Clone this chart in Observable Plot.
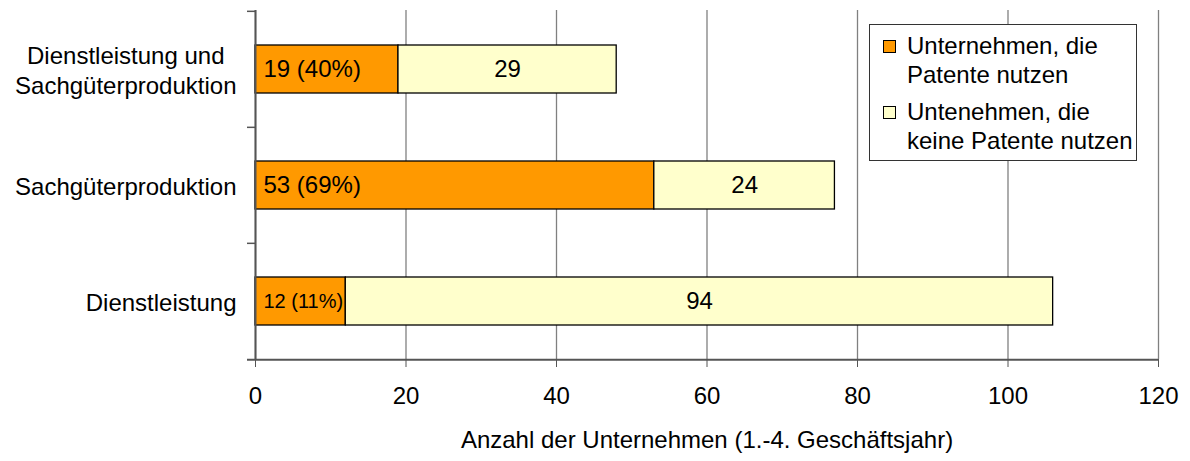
<!DOCTYPE html>
<html>
<head>
<meta charset="utf-8">
<script src="https://cdn.jsdelivr.net/npm/d3@7"></script>
<script src="https://cdn.jsdelivr.net/npm/@observablehq/plot@0.6"></script>
<style>
  html, body { margin: 0; padding: 0; background: #fff; }
  body { font-family: "Liberation Sans", Arial, sans-serif; }
  #wrap { position: relative; width: 1190px; height: 461px; }
  #legend { position: absolute; left: 869px; top: 24px; width: 266px; height: 135px;
    border: 1px solid #333; background: #fff; font-size: 24px; color: #000; }
  .item { position: absolute; left: 37px; line-height: 29px; white-space: nowrap; }
  .sw { position: absolute; left: -24px; top: 9px; width: 11px; height: 11px; border: 1px solid #000; }
</style>
</head>
<body>
<div id="wrap"><div id="chart"></div><div id="legend"></div></div>
<script>
const categories = ["Dienstleistung und\nSachgüterproduktion", "Sachgüterproduktion", "Dienstleistung"];
const withPatents = [19, 53, 12];
const withoutPatents = [29, 24, 94];
const percentWith = [40, 69, 11];
const series = ["Unternehmen, die\nPatente nutzen", "Untenehmen, die\nkeine Patente nutzen"];
const colors = ["#FF9900", "#FFFFCC"];
const xTicks = [0, 20, 40, 60, 80, 100, 120];
const xLabel = "Anzahl der Unternehmen (1.-4. Geschäftsjahr)";

const W = 1190, H = 461, mL = 255, mR = 32, mT = 10, mB = 102;
const FONT = "Liberation Sans, Arial, sans-serif";
const FS = 24;
const step = (H - mT - mB) / categories.length;

const rows = [];
categories.forEach((c, i) => {
  rows.push({cat: c, series: series[0], value: withPatents[i]});
  rows.push({cat: c, series: series[1], value: withoutPatents[i]});
});
const orangeLabels = categories.map((c, i) => ({cat: c, v: withPatents[i], t: `${withPatents[i]} (${percentWith[i]}%)`}));
const yellowLabels = categories.map((c, i) => ({cat: c, x: withPatents[i] + withoutPatents[i] / 2, t: String(withoutPatents[i])}));
const xMax = xTicks[xTicks.length - 1];

// measure widest line of each category label (lines are centred within a right-aligned block)
const ctx = document.createElement("canvas").getContext("2d");
ctx.font = `${FS}px "Liberation Sans"`;
const blockWidth = s => Math.max(...s.split("\n").map(l => ctx.measureText(l).width));

const chart = Plot.plot({
  width: W, height: H,
  marginLeft: mL, marginRight: mR, marginTop: mT, marginBottom: mB,
  style: {fontFamily: FONT, fontSize: FS + "px", color: "#000", background: "#fff"},
  x: {domain: [0, xMax], axis: null},
  y: {domain: categories, paddingInner: 0.59, paddingOuter: 0.295, axis: null},
  color: {domain: series, range: colors},
  marks: [
    Plot.gridX(xTicks, {stroke: "#808080", strokeOpacity: 1, strokeWidth: 1.3}),
    Plot.barX(rows, {x: "value", y: "cat", fill: "series", stroke: "#000", strokeWidth: 1.3}),
    // category boundary ticks
    Plot.ruleY(categories, {y: d => d, x1: 0, x2: 0, insetLeft: -8, dy: -step / 2, stroke: "#555", strokeWidth: 1.5}),
    Plot.ruleY(categories.slice(-1), {y: d => d, x1: 0, x2: xMax, insetLeft: -8, dy: step / 2, stroke: "#555", strokeWidth: 2}),
    Plot.ruleX([0], {stroke: "#555", strokeWidth: 2}),
    Plot.axisX({ticks: xTicks, tickSize: 8, tickPadding: 19, tickFormat: d => String(d), stroke: "#555", label: null, fontSize: FS, color: "#000"}),
    ...categories.map(c => Plot.text([c], {x: 0, y: d => d, text: d => d, textAnchor: "middle",
      dx: -19 - blockWidth(c) / 2, lineHeight: 1.25, fill: "#000", fontSize: FS})),
    Plot.text(orangeLabels, {x: 0, y: "cat", text: "t", textAnchor: "start", dx: 8, fill: "#000", fontSize: d => d.v < 15 ? 20 : FS}),
    Plot.text(yellowLabels, {x: "x", y: "cat", text: "t", fill: "#000", fontSize: FS}),
    Plot.text([xLabel], {text: d => d, frameAnchor: "bottom", dy: 88, fill: "#000", fontSize: FS})
  ]
});
document.getElementById("chart").appendChild(chart);

const legend = document.getElementById("legend");
const tops = [6, 72];
series.forEach((s, i) => {
  const d = document.createElement("div");
  d.className = "item";
  d.style.top = tops[i] + "px";
  const sw = document.createElement("div");
  sw.className = "sw";
  sw.style.background = colors[i];
  d.appendChild(sw);
  s.split("\n").forEach((line, j) => {
    if (j) d.appendChild(document.createElement("br"));
    d.appendChild(document.createTextNode(line));
  });
  legend.appendChild(d);
});
</script>
</body>
</html>
